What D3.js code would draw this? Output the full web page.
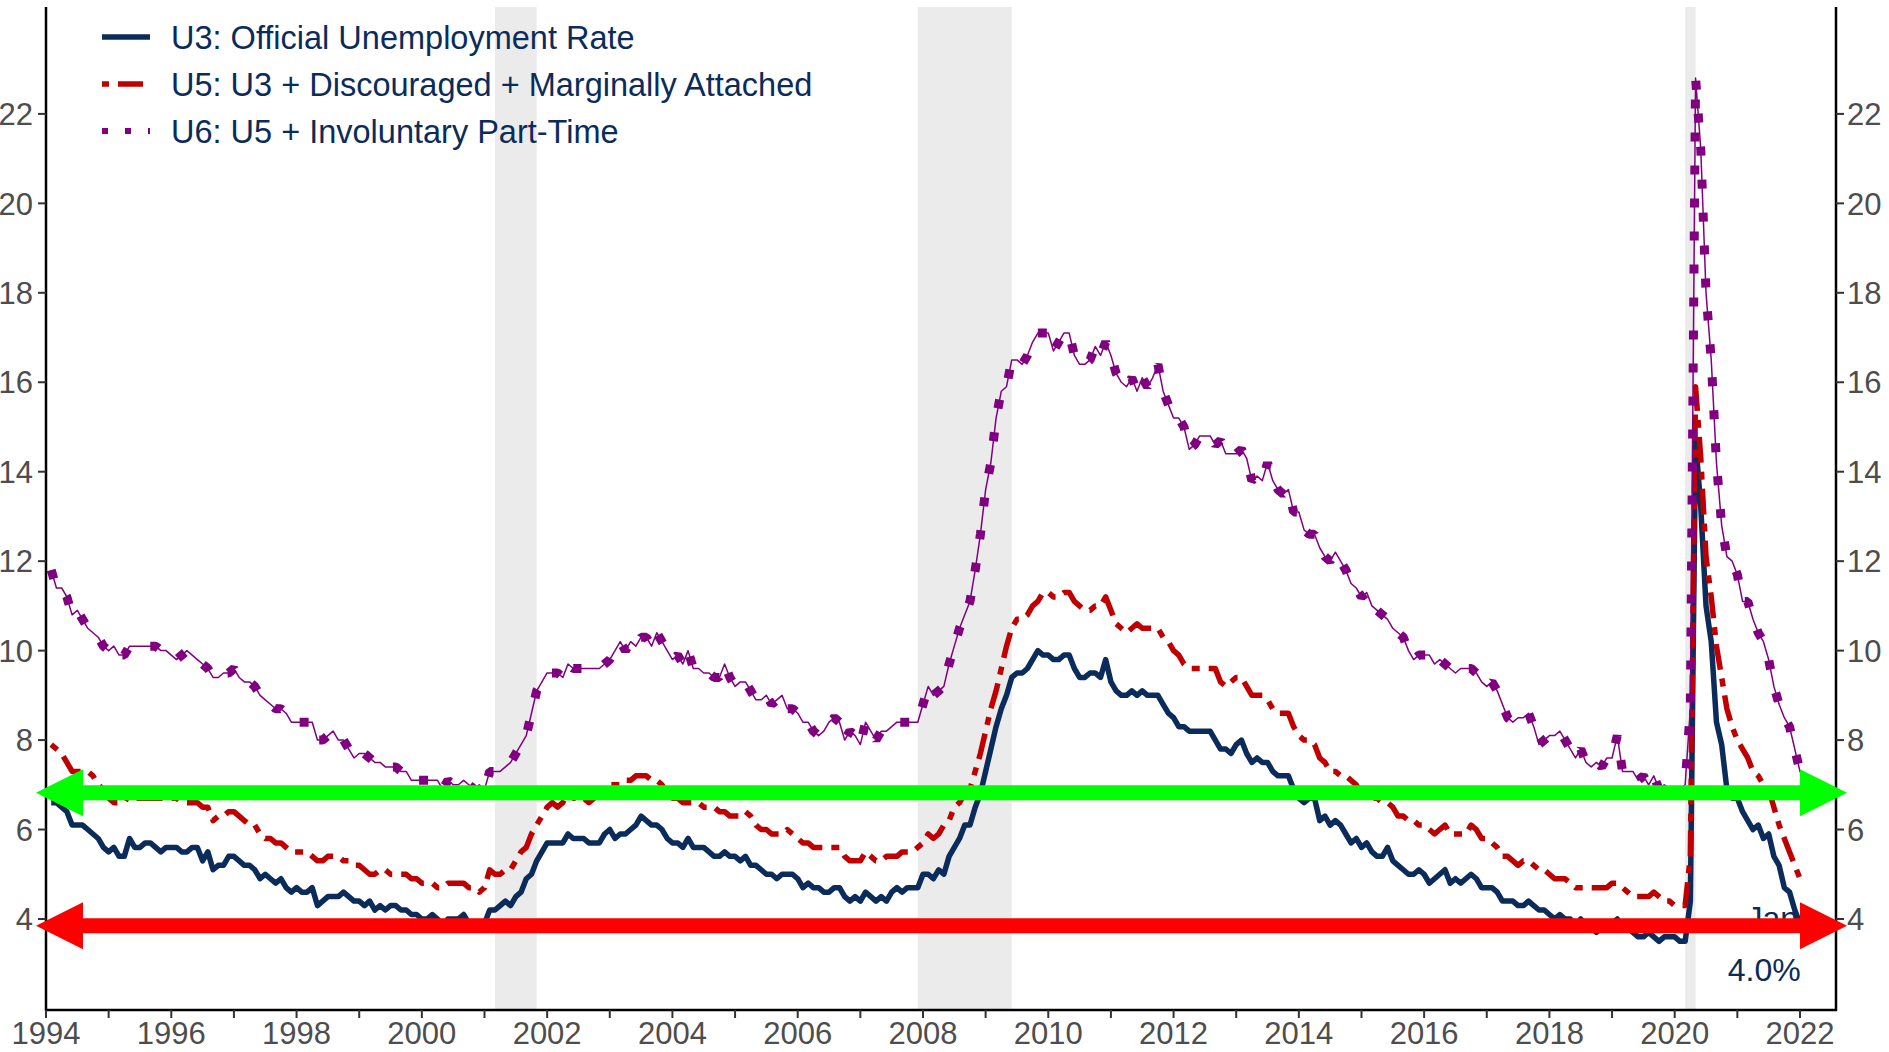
<!DOCTYPE html>
<html>
<head>
<meta charset="utf-8">
<script src="https://cdn.jsdelivr.net/npm/d3@7/dist/d3.min.js"></script>
<style>
  html, body { margin: 0; padding: 0; background: #fff; }
  svg { display: block; }
  text { font-family: "Liberation Sans", Arial, sans-serif; }
</style>
</head>
<body>
<div id="chart"></div>
<script>
// monthly rates, Jan 1994 .. Jan 2022, one row per year
const u3 = [
  6.6, 6.6, 6.5, 6.4, 6.1, 6.1, 6.1, 6.0, 5.9, 5.8, 5.6, 5.5,
  5.6, 5.4, 5.4, 5.8, 5.6, 5.6, 5.7, 5.7, 5.6, 5.5, 5.6, 5.6,
  5.6, 5.5, 5.5, 5.6, 5.6, 5.3, 5.5, 5.1, 5.2, 5.2, 5.4, 5.4,
  5.3, 5.2, 5.2, 5.1, 4.9, 5.0, 4.9, 4.8, 4.9, 4.7, 4.6, 4.7,
  4.6, 4.6, 4.7, 4.3, 4.4, 4.5, 4.5, 4.5, 4.6, 4.5, 4.4, 4.4,
  4.3, 4.4, 4.2, 4.3, 4.2, 4.3, 4.3, 4.2, 4.2, 4.1, 4.1, 4.0,
  4.0, 4.1, 4.0, 3.8, 4.0, 4.0, 4.0, 4.1, 3.9, 3.9, 3.9, 3.9,
  4.2, 4.2, 4.3, 4.4, 4.3, 4.5, 4.6, 4.9, 5.0, 5.3, 5.5, 5.7,
  5.7, 5.7, 5.7, 5.9, 5.8, 5.8, 5.8, 5.7, 5.7, 5.7, 5.9, 6.0,
  5.8, 5.9, 5.9, 6.0, 6.1, 6.3, 6.2, 6.1, 6.1, 6.0, 5.8, 5.7,
  5.7, 5.6, 5.8, 5.6, 5.6, 5.6, 5.5, 5.4, 5.4, 5.5, 5.4, 5.4,
  5.3, 5.4, 5.2, 5.2, 5.1, 5.0, 5.0, 4.9, 5.0, 5.0, 5.0, 4.9,
  4.7, 4.8, 4.7, 4.7, 4.6, 4.6, 4.7, 4.7, 4.5, 4.4, 4.5, 4.4,
  4.6, 4.5, 4.4, 4.5, 4.4, 4.6, 4.7, 4.6, 4.7, 4.7, 4.7, 5.0,
  5.0, 4.9, 5.1, 5.0, 5.4, 5.6, 5.8, 6.1, 6.1, 6.5, 6.8, 7.3,
  7.8, 8.3, 8.7, 9.0, 9.4, 9.5, 9.5, 9.6, 9.8, 10.0, 9.9, 9.9,
  9.8, 9.8, 9.9, 9.9, 9.6, 9.4, 9.4, 9.5, 9.5, 9.4, 9.8, 9.3,
  9.1, 9.0, 9.0, 9.1, 9.0, 9.1, 9.0, 9.0, 9.0, 8.8, 8.6, 8.5,
  8.3, 8.3, 8.2, 8.2, 8.2, 8.2, 8.2, 8.0, 7.8, 7.8, 7.7, 7.9,
  8.0, 7.7, 7.5, 7.6, 7.5, 7.5, 7.3, 7.2, 7.2, 7.2, 6.9, 6.7,
  6.6, 6.7, 6.7, 6.2, 6.3, 6.1, 6.2, 6.1, 5.9, 5.7, 5.8, 5.6,
  5.7, 5.5, 5.4, 5.4, 5.6, 5.3, 5.2, 5.1, 5.0, 5.0, 5.1, 5.0,
  4.8, 4.9, 5.0, 5.1, 4.8, 4.9, 4.8, 4.9, 5.0, 4.9, 4.7, 4.7,
  4.7, 4.6, 4.4, 4.4, 4.4, 4.3, 4.3, 4.4, 4.3, 4.2, 4.2, 4.1,
  4.0, 4.1, 4.0, 4.0, 3.8, 4.0, 3.8, 3.8, 3.7, 3.8, 3.8, 3.9,
  4.0, 3.8, 3.8, 3.7, 3.6, 3.6, 3.7, 3.6, 3.5, 3.6, 3.6, 3.6,
  3.5, 3.5, 4.4, 14.7, 13.2, 11.0, 10.2, 8.4, 7.9, 6.9, 6.7, 6.7,
  6.4, 6.2, 6.0, 6.1, 5.8, 5.9, 5.4, 5.2, 4.7, 4.6, 4.2, 3.9,
  4.0
];

const u5 = [
  7.9, 7.8, 7.7, 7.5, 7.3, 7.3, 7.3, 7.3, 7.2, 7.0, 6.9, 6.7,
  6.6, 6.6, 6.6, 6.8, 6.7, 6.7, 6.7, 6.7, 6.7, 6.7, 6.7, 6.7,
  6.7, 6.6, 6.6, 6.6, 6.6, 6.5, 6.5, 6.2, 6.3, 6.3, 6.4, 6.4,
  6.3, 6.2, 6.1, 6.1, 5.9, 5.8, 5.8, 5.7, 5.7, 5.6, 5.5, 5.5,
  5.5, 5.5, 5.4, 5.3, 5.3, 5.4, 5.4, 5.4, 5.3, 5.3, 5.2, 5.2,
  5.1, 5.0, 5.0, 5.1, 5.1, 5.0, 5.0, 5.0, 5.0, 4.9, 4.9, 4.8,
  4.8, 4.8, 4.7, 4.7, 4.8, 4.8, 4.8, 4.8, 4.7, 4.7, 4.6, 4.7,
  5.1, 5.0, 5.0, 5.1, 5.1, 5.3, 5.5, 5.6, 5.9, 6.1, 6.3, 6.5,
  6.6, 6.5, 6.6, 6.8, 6.7, 6.7, 6.7, 6.6, 6.7, 6.8, 6.9, 7.0,
  7.0, 7.0, 7.1, 7.1, 7.2, 7.2, 7.2, 7.1, 7.1, 7.0, 6.8, 6.7,
  6.7, 6.6, 6.6, 6.6, 6.6, 6.5, 6.5, 6.5, 6.4, 6.4, 6.3, 6.3,
  6.3, 6.4, 6.3, 6.1, 6.0, 6.0, 5.9, 5.9, 5.9, 6.0, 5.9, 5.8,
  5.7, 5.7, 5.6, 5.6, 5.6, 5.6, 5.6, 5.6, 5.4, 5.3, 5.3, 5.3,
  5.5, 5.4, 5.3, 5.3, 5.4, 5.4, 5.4, 5.5, 5.5, 5.5, 5.6, 5.7,
  5.9, 5.8, 5.9, 6.1, 6.2, 6.5, 6.6, 6.8, 6.9, 7.3, 7.7, 8.2,
  8.7, 9.1, 9.6, 10.1, 10.5, 10.7, 10.7, 10.8, 11.0, 11.1, 11.3, 11.3,
  11.2, 11.2, 11.3, 11.3, 11.1, 11.0, 10.9, 10.9, 11.0, 11.0, 11.2, 10.9,
  10.6, 10.5, 10.4, 10.5, 10.6, 10.5, 10.5, 10.5, 10.5, 10.3, 10.2, 10.0,
  9.9, 9.7, 9.6, 9.6, 9.6, 9.6, 9.6, 9.6, 9.3, 9.2, 9.3, 9.4,
  9.4, 9.2, 9.0, 9.0, 9.0, 8.9, 8.7, 8.6, 8.6, 8.6, 8.3, 8.1,
  8.0, 8.0, 7.9, 7.6, 7.5, 7.3, 7.3, 7.2, 7.2, 7.1, 7.0, 6.8,
  6.8, 6.7, 6.7, 6.6, 6.6, 6.5, 6.3, 6.3, 6.2, 6.2, 6.1, 6.1,
  6.0, 5.9, 6.0, 6.1, 5.9, 5.9, 5.9, 5.9, 6.1, 6.0, 5.8, 5.8,
  5.7, 5.6, 5.4, 5.4, 5.3, 5.2, 5.3, 5.3, 5.2, 5.1, 5.1, 5.0,
  4.9, 4.9, 4.9, 4.8, 4.7, 4.7, 4.7, 4.7, 4.7, 4.7, 4.7, 4.8,
  4.8, 4.7, 4.6, 4.5, 4.5, 4.5, 4.5, 4.6, 4.5, 4.4, 4.4, 4.3,
  4.3, 4.3, 5.4, 15.9, 14.3, 12.1, 11.2, 10.1, 9.4, 8.7, 8.3, 8.0,
  7.8, 7.6, 7.3, 7.2, 7.0, 6.9, 6.5, 6.1, 5.8, 5.5, 5.2, 4.9,
  4.9
];

const u6 = [
  11.8, 11.4, 11.4, 11.2, 10.8, 10.9, 10.7, 10.5, 10.4, 10.3, 10.1, 10.0,
  10.1, 9.9, 9.9, 10.1, 10.1, 10.1, 10.1, 10.1, 10.1, 10.0, 10.0, 9.9,
  9.8, 9.9, 10.0, 9.9, 9.8, 9.7, 9.6, 9.4, 9.4, 9.5, 9.5, 9.6,
  9.4, 9.3, 9.3, 9.2, 9.0, 8.9, 8.8, 8.7, 8.7, 8.6, 8.4, 8.4,
  8.4, 8.4, 8.4, 8.0, 8.0, 8.1, 8.2, 8.0, 8.0, 7.8, 7.6, 7.7,
  7.7, 7.6, 7.5, 7.5, 7.4, 7.4, 7.4, 7.3, 7.3, 7.1, 7.1, 7.1,
  7.1, 7.1, 7.1, 6.9, 7.1, 7.0, 7.0, 7.1, 7.0, 6.9, 7.0, 6.9,
  7.3, 7.3, 7.3, 7.4, 7.5, 7.7, 7.9, 8.1, 8.6, 9.1, 9.3, 9.5,
  9.5, 9.5, 9.4, 9.7, 9.6, 9.6, 9.6, 9.6, 9.6, 9.6, 9.7, 9.8,
  10.0, 10.2, 10.0, 10.2, 10.1, 10.3, 10.3, 10.1, 10.4, 10.2, 10.0, 9.8,
  9.9, 9.7, 10.0, 9.6, 9.6, 9.5, 9.5, 9.4, 9.4, 9.7, 9.4, 9.2,
  9.3, 9.3, 9.1, 8.9, 8.9, 9.0, 8.8, 8.9, 9.0, 8.7, 8.7, 8.6,
  8.4, 8.4, 8.2, 8.1, 8.2, 8.4, 8.5, 8.4, 8.0, 8.2, 8.1, 7.9,
  8.4, 8.2, 8.0, 8.2, 8.2, 8.3, 8.4, 8.4, 8.4, 8.4, 8.4, 8.8,
  9.2, 9.0, 9.1, 9.2, 9.7, 10.1, 10.5, 10.8, 11.1, 11.8, 12.6, 13.6,
  14.2, 15.2, 15.8, 15.9, 16.5, 16.5, 16.4, 16.6, 16.9, 17.1, 17.1, 17.1,
  16.7, 16.9, 17.1, 17.1, 16.6, 16.4, 16.4, 16.5, 16.8, 16.6, 16.9, 16.6,
  16.2, 16.0, 15.9, 16.1, 15.8, 16.1, 15.9, 16.1, 16.4, 15.8, 15.5, 15.2,
  15.2, 15.0, 14.5, 14.6, 14.8, 14.8, 14.8, 14.6, 14.7, 14.4, 14.4, 14.4,
  14.5, 14.3, 13.8, 13.9, 13.8, 14.2, 13.8, 13.6, 13.5, 13.6, 13.1, 13.1,
  12.7, 12.6, 12.6, 12.3, 12.1, 12.0, 12.2, 12.0, 11.8, 11.5, 11.4, 11.2,
  11.3, 11.0, 10.9, 10.8, 10.7, 10.5, 10.4, 10.3, 10.0, 9.8, 9.9, 9.9,
  9.9, 9.7, 9.8, 9.7, 9.6, 9.5, 9.6, 9.6, 9.6, 9.5, 9.3, 9.2,
  9.3, 9.1, 8.8, 8.5, 8.4, 8.5, 8.5, 8.6, 8.3, 7.9, 8.0, 8.1,
  8.1, 8.2, 8.0, 7.8, 7.6, 7.8, 7.5, 7.4, 7.5, 7.4, 7.6, 7.6,
  8.1, 7.3, 7.3, 7.3, 7.1, 7.2, 7.0, 7.2, 6.9, 7.0, 6.9, 6.7,
  6.9, 7.0, 8.7, 22.8, 21.2, 18.0, 16.5, 14.2, 12.8, 12.1, 12.0, 11.7,
  11.1, 11.1, 10.7, 10.4, 10.2, 9.8, 9.2, 8.8, 8.5, 8.3, 7.8, 7.3,
  7.1
];

const startYear = 1994;
const seriesNames = [
  'U3: Official Unemployment Rate',
  'U5: U3 + Discouraged + Marginally Attached',
  'U6: U5 + Involuntary Part-Time'
];
// recession bands, in fractional years
const recessions = [[2001.167, 2001.833], [2007.917, 2009.417], [2020.167, 2020.333]];
const yTicks = [4, 6, 8, 10, 12, 14, 16, 18, 20, 22];
const xTickYears = d3.range(1994, 2023);
const xLabelYears = d3.range(1994, 2023, 2);
// horizontal reference arrows (value level)
const arrowLevels = [6.82, 3.85];
const endNote = ['Jan', '4.0%'];

const width = 1889;
const height = 1052;
const plot = {left: 46, right: 1836, top: 7, bottom: 1010};

const navy = '#0b2c5a';
const red = '#c00000';
const purple = '#800080';

const x = d3.scaleLinear().domain([1994, 2022.575]).range([plot.left, plot.right]);
const y = d3.scaleLinear().domain([1.965, 24.39]).range([plot.bottom, plot.top]);

// month i sits at the end of its month
const toPoints = arr => arr.map((v, i) => ({date: startYear + (i + 1) / 12, value: v}));

const svg = d3.select('#chart').append('svg')
  .attr('width', width)
  .attr('height', height);

svg.append('rect').attr('width', width).attr('height', height).attr('fill', '#fff');

// recession shading
svg.append('g').selectAll('rect')
  .data(recessions)
  .enter().append('rect')
  .attr('x', d => x(d[0]))
  .attr('width', d => x(d[1]) - x(d[0]))
  .attr('y', plot.top)
  .attr('height', plot.bottom - plot.top)
  .attr('fill', '#ebebeb');

const line = d3.line()
  .x(d => x(d.date))
  .y(d => y(d.value));

const lines = svg.append('g').attr('fill', 'none').attr('stroke-linejoin', 'round');

lines.append('path')
  .attr('d', line(toPoints(u3)))
  .attr('stroke', navy)
  .attr('stroke-width', 5.5);

lines.append('path')
  .attr('d', line(toPoints(u5)))
  .attr('stroke', red)
  .attr('stroke-width', 5.5)
  .attr('stroke-dasharray', '8 9 26 9');

lines.append('path')
  .attr('d', line(toPoints(u6)))
  .attr('stroke', purple)
  .attr('stroke-width', 1.5);

lines.append('path')
  .attr('d', line(toPoints(u6)))
  .attr('stroke', purple)
  .attr('stroke-width', 9)
  .attr('stroke-linejoin', 'bevel')
  .attr('stroke-dasharray', '9 24');

// axes
const axes = svg.append('g').attr('stroke', '#000').attr('stroke-width', 2.5);
axes.append('line').attr('x1', plot.left).attr('x2', plot.left).attr('y1', plot.top).attr('y2', plot.bottom + 1);
axes.append('line').attr('x1', plot.right).attr('x2', plot.right).attr('y1', plot.top).attr('y2', plot.bottom + 1);
axes.append('line').attr('x1', plot.left - 1).attr('x2', plot.right + 1).attr('y1', plot.bottom).attr('y2', plot.bottom);

const ticks = svg.append('g').attr('stroke', '#333').attr('stroke-width', 2);
ticks.selectAll('.xt').data(xTickYears).enter().append('line')
  .attr('x1', d => x(d)).attr('x2', d => x(d))
  .attr('y1', plot.bottom).attr('y2', plot.bottom + 8);
ticks.selectAll('.yl').data(yTicks).enter().append('line')
  .attr('x1', plot.left - 8).attr('x2', plot.left)
  .attr('y1', d => y(d)).attr('y2', d => y(d));
ticks.selectAll('.yr').data(yTicks).enter().append('line')
  .attr('x1', plot.right).attr('x2', plot.right + 8)
  .attr('y1', d => y(d)).attr('y2', d => y(d));

const labels = svg.append('g').attr('fill', '#4d4d4d').style('font-size', '31px');
labels.selectAll('.xl').data(xLabelYears).enter().append('text')
  .attr('x', d => x(d)).attr('y', 1044)
  .attr('text-anchor', 'middle')
  .text(d => d);
labels.selectAll('.yll').data(yTicks).enter().append('text')
  .attr('x', plot.left - 13).attr('y', d => y(d))
  .attr('dy', '0.36em')
  .attr('text-anchor', 'end')
  .text(d => d);
labels.selectAll('.ylr').data(yTicks).enter().append('text')
  .attr('x', plot.right + 11).attr('y', d => y(d))
  .attr('dy', '0.36em')
  .attr('text-anchor', 'start')
  .text(d => d);

// legend
const legend = svg.append('g').attr('transform', 'translate(102,37)');
const keyStyles = [
  {dash: null, width: 5.5},
  {dash: '7 9 25 9', width: 5.5},
  {dash: '6 17', width: 6}
];
const keyColors = [navy, red, purple];
const item = legend.selectAll('g').data(seriesNames).enter().append('g')
  .attr('transform', (d, i) => 'translate(0,' + (i * 47) + ')');
item.append('line')
  .attr('x1', 0).attr('x2', 48).attr('y1', 0).attr('y2', 0)
  .attr('stroke', (d, i) => keyColors[i])
  .attr('stroke-width', (d, i) => keyStyles[i].width)
  .attr('stroke-dasharray', (d, i) => keyStyles[i].dash);
item.append('text')
  .attr('x', 69).attr('y', 0).attr('dy', '0.36em')
  .attr('fill', navy)
  .style('font-size', '32.5px')
  .text(d => d);

// end note for the last U3 value
const lastDate = startYear + u3.length / 12;
svg.append('text')
  .attr('x', x(lastDate) - 33).attr('y', 929)
  .attr('text-anchor', 'middle')
  .attr('fill', navy)
  .style('font-size', '32px')
  .text(endNote[0]);
svg.append('text')
  .attr('x', x(lastDate) - 41).attr('y', 981)
  .attr('text-anchor', 'middle')
  .attr('fill', navy)
  .style('font-size', '32px')
  .text(endNote[1]);

// double-headed arrows
const arrowColors = ['#00ff00', '#ff0000'];
function arrowPath(v) {
  const cy = y(v);
  const x0 = plot.left - 10;
  const x1 = plot.right + 11;
  const L = 47, H = 23.5, S = 7.5;
  return 'M' + x0 + ',' + cy +
    'L' + (x0 + L) + ',' + (cy - H) +
    'L' + (x0 + L) + ',' + (cy - S) +
    'L' + (x1 - L) + ',' + (cy - S) +
    'L' + (x1 - L) + ',' + (cy - H) +
    'L' + x1 + ',' + cy +
    'L' + (x1 - L) + ',' + (cy + H) +
    'L' + (x1 - L) + ',' + (cy + S) +
    'L' + (x0 + L) + ',' + (cy + S) +
    'L' + (x0 + L) + ',' + (cy + H) + 'Z';
}
svg.append('g').selectAll('path')
  .data(arrowLevels)
  .enter().append('path')
  .attr('d', d => arrowPath(d))
  .attr('fill', (d, i) => arrowColors[i]);
</script>
</body>
</html>
